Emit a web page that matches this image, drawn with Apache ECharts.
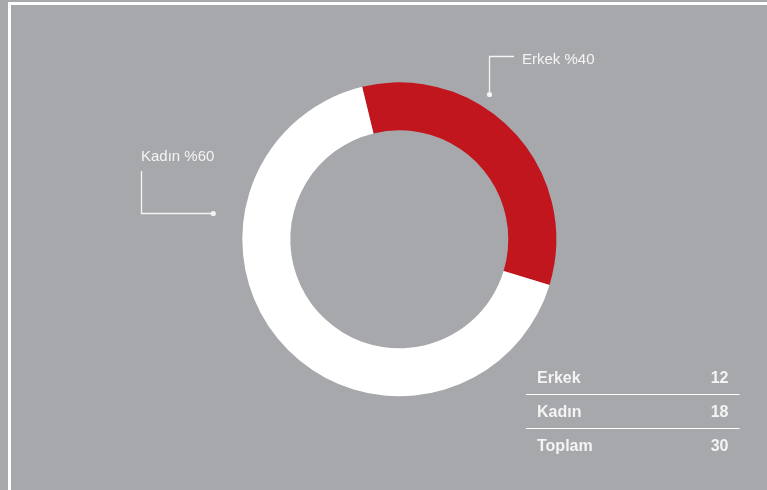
<!DOCTYPE html>
<html>
<head>
<meta charset="utf-8">
<script src="https://cdn.jsdelivr.net/npm/echarts@6/dist/echarts.min.js"></script>
<style>
html,body{margin:0;padding:0;background:#a7a8ab;}
#chart{width:767px;height:490px;}
</style>
</head>
<body>
<div id="chart"></div>
<script>
// Data
var categories = ['Erkek', 'Kadın'];
var counts = [12, 18];
var labelPercents = [40, 60];
// Arc shares as actually drawn in the reference donut (red arc spans ~121°)
var arcShares = [33.5, 66.5];
var totalLabel = 'Toplam';
var totalCount = 30;

var colors = ['#c1161d', '#ffffff'];
var FONT = '"Liberation Sans", Arial, Helvetica, sans-serif';
var TXT = '#f4f4f4';

var chart = echarts.init(document.getElementById('chart'), null, {renderer: 'canvas'});

var pieData = categories.map(function (c, i) {
  return { name: c, value: arcShares[i], itemStyle: { color: colors[i] } };
});

var graphics = [];
// frame
graphics.push({ type: 'rect', shape: { x: 9.5, y: 3.5, width: 800, height: 600 }, style: { fill: null, stroke: '#ffffff', lineWidth: 3 }, silent: true });

// Annotation: Erkek
graphics.push({ type: 'polyline', shape: { points: [[514, 56.5], [489.5, 56.5], [489.5, 94]] }, style: { stroke: TXT, lineWidth: 1.3, fill: null } });
graphics.push({ type: 'circle', shape: { cx: 489.5, cy: 94.5, r: 2.6 }, style: { fill: TXT } });
graphics.push({ type: 'text', x: 522, y: 59.5, style: { text: categories[0] + ' %' + labelPercents[0], fill: TXT, font: '15px ' + FONT, verticalAlign: 'middle' } });

// Annotation: Kadın
graphics.push({ type: 'polyline', shape: { points: [[141.5, 171], [141.5, 213.5], [213, 213.5]] }, style: { stroke: TXT, lineWidth: 1.3, fill: null } });
graphics.push({ type: 'circle', shape: { cx: 213.3, cy: 213.5, r: 2.6 }, style: { fill: TXT } });
graphics.push({ type: 'text', x: 141, y: 157, style: { text: categories[1] + ' %' + labelPercents[1], fill: TXT, font: '15px ' + FONT, verticalAlign: 'middle' } });

// Table
var rowNames = categories.concat([totalLabel]);
var rowVals = counts.concat([totalCount]);
var centers = [379, 412.3, 446.6];
rowNames.forEach(function (n, i) {
  graphics.push({ type: 'text', x: 537, y: centers[i], style: { text: n, fill: TXT, font: 'bold 16px ' + FONT, verticalAlign: 'middle' } });
  graphics.push({ type: 'text', x: 728.5, y: centers[i], style: { text: String(rowVals[i]), fill: TXT, font: 'bold 16px ' + FONT, align: 'right', verticalAlign: 'middle' } });
});
[394.5, 428.5].forEach(function (y) {
  graphics.push({ type: 'line', shape: { x1: 526, y1: y, x2: 739.5, y2: y }, style: { stroke: '#ffffff', lineWidth: 1.2 } });
});

chart.setOption({
  backgroundColor: '#a7a8ab',
  animation: false,
  series: [{
    type: 'pie',
    center: [399.3, 239.3],
    radius: [109, 157],
    startAngle: 103.7,
    clockwise: true,
    label: { show: false },
    labelLine: { show: false },
    emphasis: { disabled: true },
    itemStyle: { borderWidth: 0 },
    data: pieData
  }],
  graphic: graphics
});
</script>
</body>
</html>
